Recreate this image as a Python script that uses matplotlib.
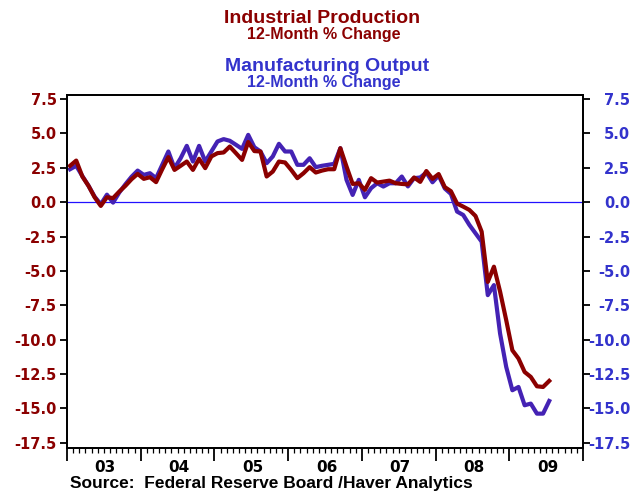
import matplotlib
matplotlib.use("Agg")
import matplotlib.pyplot as plt
import numpy as np
from matplotlib.ticker import MultipleLocator, FixedLocator
import matplotlib.transforms as mtransforms

plt.rcParams['axes.unicode_minus'] = False

# ---------------- data (monthly, Jan 2003 - Jul 2009) ----------------
start_year = 2003
industrial_production = [
    2.65, 3.03, 1.87, 1.19, 0.36, -0.27, 0.36, 0.30, 0.77, 1.19, 1.67, 2.06,
    1.70, 1.82, 1.46, 2.40, 3.28, 2.35, 2.65, 2.96, 2.35, 3.16, 2.48, 3.33,
    3.57, 3.62, 4.05, 3.57, 3.08, 4.38, 3.72, 3.69, 1.87, 2.23, 2.96, 2.89,
    2.35, 1.75, 2.11, 2.55, 2.16, 2.30, 2.40, 2.40, 3.93, 2.60, 1.33, 1.38,
    0.90, 1.75, 1.43, 1.50, 1.57, 1.38, 1.33, 1.30, 1.80, 1.48, 2.27, 1.70,
    2.05, 1.10, 0.80, -0.10, -0.32, -0.56, -1.00, -2.14, -5.80, -4.69, -6.50, -8.58,
    -10.77, -11.37, -12.35, -12.71, -13.39, -13.44, -13.00,
]
manufacturing_output = [
    2.40, 2.65, 1.90, 1.20, 0.40, -0.15, 0.55, -0.03, 0.70, 1.30, 1.85, 2.30,
    1.99, 2.11, 1.75, 2.72, 3.69, 2.48, 3.20, 4.10, 2.96, 4.10, 2.96, 3.69,
    4.42, 4.59, 4.47, 4.18, 3.88, 4.90, 4.00, 3.69, 2.84, 3.33, 4.25, 3.69,
    3.69, 2.72, 2.72, 3.20, 2.55, 2.65, 2.72, 2.79, 3.93, 1.63, 0.53, 1.63,
    0.36, 1.02, 1.38, 1.14, 1.38, 1.38, 1.87, 1.15, 1.75, 1.80, 2.16, 1.45,
    1.95, 1.00, 0.60, -0.68, -0.93, -1.65, -2.26, -2.87, -6.76, -6.03, -9.55, -11.98,
    -13.68, -13.44, -14.77, -14.65, -15.38, -15.38, -14.46,
]
year_labels = ['03', '04', '05', '06', '07', '08', '09']
y_ticks = [7.5, 5.0, 2.5, 0.0, -2.5, -5.0, -7.5, -10.0, -12.5, -15.0, -17.5]

# ---------------- styling ----------------
RED = '#8B0000'
BLUE_LINE = '#4422B4'
BLUE_TXT = '#3333CC'
ZERO_BLUE = '#2211FF'
TXT_FONT = ['Liberation Sans', 'DejaVu Sans']
TICK_FONT = ['DejaVu Sans']

fig = plt.figure(figsize=(6.44, 4.93), dpi=100)
W, H = 644, 493
ax = fig.add_axes([67 / W, 1 - 448 / H, (583 - 67) / W, (448 - 95) / H])

n = len(industrial_production)
x = start_year + (np.arange(n) + 0.5) / 12.0

ax.axhline(0, color=ZERO_BLUE, lw=0.9, zorder=1)
ax.plot(x, manufacturing_output, color=BLUE_LINE, lw=3.0, solid_joinstyle='round', zorder=2)
ax.plot(x, industrial_production, color=RED, lw=3.0, solid_joinstyle='round', zorder=3)

ax.set_xlim(start_year, start_year + len(year_labels))
ax.set_ylim(-17.88, 7.8)

for s in ax.spines.values():
    s.set_linewidth(1.3)
    s.set_color('black')

# x axis ticks
ax.xaxis.set_major_locator(FixedLocator(np.arange(start_year, start_year + len(year_labels) + 1)))
ax.xaxis.set_minor_locator(MultipleLocator(1 / 12))
ax.tick_params(axis='x', which='major', direction='out', length=9.5, width=1.3, labelbottom=False)
ax.tick_params(axis='x', which='minor', direction='out', length=3.5, width=0.9)
trans = mtransforms.blended_transform_factory(ax.transData, fig.transFigure)
for i, lab in enumerate(year_labels):
    fig.text(start_year + i + 0.52, 1 - 471.5 / H, lab, transform=trans, ha='center',
             va='baseline', fontsize=11, fontweight='bold', family=TICK_FONT, color='black')

# y axis left
ax.set_yticks(y_ticks)
ax.set_yticklabels([f'{v:.1f}' for v in y_ticks])
ax.tick_params(axis='y', direction='out', length=5, width=1.3, pad=2.5,
               labelcolor=RED, labelsize=10.5)
for t in ax.get_yticklabels():
    t.set_fontweight('bold')
    t.set_family(TICK_FONT)

# right axis
ax2 = ax.twinx()
ax2.set_ylim(ax.get_ylim())
ax2.set_yticks(y_ticks)
ax2.set_yticklabels([f'{v:.1f}' for v in y_ticks])
ax2.tick_params(axis='y', direction='out', length=5, width=1.3, pad=29,
                labelcolor=BLUE_TXT, labelsize=10.5)
for t in ax2.get_yticklabels():
    t.set_fontweight('bold')
    t.set_family(TICK_FONT)
    t.set_horizontalalignment('right')
for s in ax2.spines.values():
    s.set_linewidth(1.3)

# titles
fig.text(322.5 / W, 1 - 23 / H, 'Industrial Production', ha='center', va='baseline',
         fontsize=14, fontweight='bold', color=RED, family=TXT_FONT)
fig.text(323.5 / W, 1 - 38.5 / H, '12-Month % Change', ha='center', va='baseline',
         fontsize=11.5, fontweight='bold', color=RED, family=TXT_FONT)
fig.text(327 / W, 1 - 71 / H, 'Manufacturing Output', ha='center', va='baseline',
         fontsize=14, fontweight='bold', color=BLUE_TXT, family=TXT_FONT)
fig.text(324 / W, 1 - 87.5 / H, '12-Month % Change', ha='center', va='baseline',
         fontsize=11.5, fontweight='bold', color=BLUE_TXT, family=TXT_FONT)

fig.text(70 / W, 1 - 488.3 / H, 'Source:  Federal Reserve Board /Haver Analytics',
         ha='left', va='baseline', fontsize=12.5, fontweight='bold', color='black',
         family=TXT_FONT)

fig.savefig('out.png', dpi=100)
